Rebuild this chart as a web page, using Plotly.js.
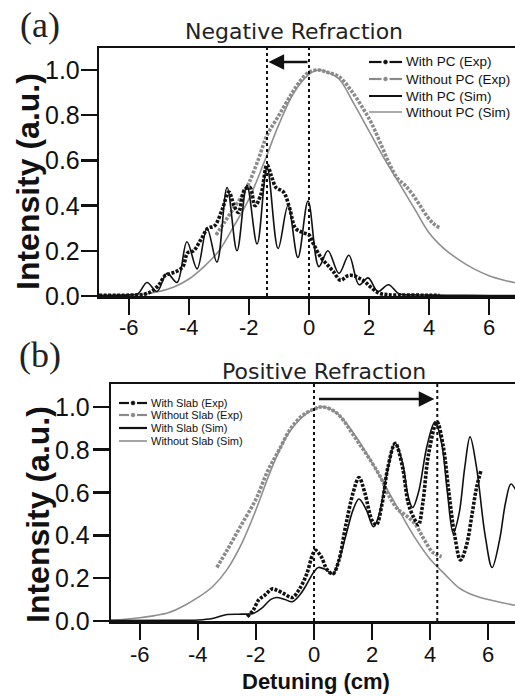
<!DOCTYPE html>
<html>
<head>
<meta charset="utf-8">
<script src="https://cdn.plot.ly/plotly-3.0.1.min.js"></script>
<style>html,body{margin:0;padding:0;background:#fff;}#chart{width:515px;height:696px;}</style>
</head>
<body>
<div id="chart"></div>
<script>
// ---------- Panel (a): Negative Refraction ----------
const aSimNoPC_x = [-7,-6.5,-6,-5.5,-5,-4.5,-4,-3.5,-3,-2.5,-2,-1.5,-1,-0.5,0,0.3,0.6,1,1.5,2,2.5,3,3.5,4,4.5,5,5.5,6,6.5,7];
const aSimNoPC_y = [0.001,0.002,0.004,0.008,0.02,0.04,0.075,0.13,0.2,0.31,0.43,0.59,0.76,0.9,0.98,1.0,0.99,0.96,0.85,0.73,0.61,0.5,0.39,0.28,0.21,0.16,0.12,0.09,0.07,0.055];

const aExpNoPC_x = [-3.1,-2.8,-2.5,-2.2,-2,-1.7,-1.4,-1.0,-0.6,-0.3,0,0.3,0.6,1.0,1.4,1.8,2.1,2.4,2.7,2.95,3.2,3.45,3.7,3.95,4.15,4.37];
const aExpNoPC_y = [0.27,0.33,0.39,0.45,0.5,0.6,0.71,0.8,0.89,0.95,0.99,1.0,0.99,0.97,0.91,0.83,0.76,0.67,0.58,0.52,0.49,0.45,0.4,0.35,0.32,0.30];

const aSimPC_x = [-7,-6,-5.7,-5.4,-5.07,-4.73,-4.4,-4.07,-3.73,-3.4,-3.07,-2.73,-2.4,-2.07,-1.73,-1.4,-1.03,-0.7,-0.37,-0.03,0.33,0.63,1.0,1.33,1.67,1.97,2.3,2.65,3.0,3.5,4,5,6,7];
const aSimPC_y = [0.003,0.005,0.01,0.06,0.02,0.1,0.06,0.24,0.12,0.3,0.15,0.48,0.2,0.49,0.23,0.57,0.21,0.4,0.17,0.42,0.13,0.2,0.1,0.18,0.05,0.08,0.02,0.05,0.01,0.005,0.004,0.003,0.002,0.002];

const aExpPC_x = [-7,-6,-5.5,-5.25,-5.0,-4.8,-4.6,-4.4,-4.2,-4.05,-3.85,-3.6,-3.37,-3.15,-2.9,-2.67,-2.5,-2.35,-2.15,-1.97,-1.8,-1.6,-1.4,-1.25,-1.1,-0.85,-0.65,-0.45,-0.2,0,0.15,0.4,0.6,0.8,1.05,1.3,1.5,1.65,1.85,2.05,2.33,2.6,3,3.5,4,4.35];
const aExpPC_y = [0.003,0.004,0.008,0.02,0.05,0.09,0.1,0.11,0.13,0.19,0.2,0.25,0.3,0.31,0.38,0.46,0.4,0.37,0.47,0.48,0.4,0.45,0.58,0.53,0.48,0.46,0.39,0.3,0.28,0.27,0.23,0.17,0.14,0.11,0.07,0.09,0.09,0.08,0.065,0.04,0.013,0.006,0.004,0.004,0.003,0.003];

const aGuides = [-1.4, 0];
const aArrowFrom = 0, aArrowTo = -1.35, aArrowY = 1.035;
const aNames = ['With PC (Exp)','Without PC (Exp)','With PC (Sim)','Without PC (Sim)'];

// ---------- Panel (b): Positive Refraction ----------
const bSimNoSlab_x = [-7,-6.5,-6,-5.5,-5,-4.5,-4,-3.5,-3,-2.5,-2,-1.5,-1,-0.5,0,0.3,0.8,1.4,2,2.5,3,3.5,4,4.5,5,5.5,6,6.5,7];
const bSimNoSlab_y = [0.004,0.008,0.015,0.025,0.04,0.07,0.11,0.16,0.24,0.36,0.52,0.7,0.85,0.94,0.99,1.0,0.97,0.87,0.74,0.62,0.5,0.385,0.29,0.22,0.155,0.12,0.1,0.085,0.072];

const bExpNoSlab_x = [-3.35,-3,-2.5,-2,-1.6,-1.2,-0.8,-0.4,0,0.3,0.7,1.0,1.3,1.6,1.9,2.3,2.6,2.9,3.2,3.5,3.8,4.1,4.4];
const bExpNoSlab_y = [0.25,0.33,0.45,0.57,0.7,0.8,0.9,0.96,0.99,1.0,0.98,0.94,0.88,0.82,0.76,0.67,0.58,0.52,0.49,0.45,0.38,0.32,0.3];

const bSimSlab_x = [-7,-5,-4,-3.5,-3,-2.5,-2.1,-1.8,-1.5,-1.3,-1.0,-0.75,-0.5,-0.3,0.0,0.15,0.4,0.65,0.85,1.1,1.35,1.55,1.8,2.05,2.25,2.5,2.8,3.05,3.25,3.4,3.6,3.9,4.17,4.4,4.6,4.8,5.0,5.2,5.38,5.6,5.9,6.14,6.4,6.6,6.79,7.0];
const bSimSlab_y = [0.002,0.003,0.005,0.012,0.03,0.032,0.035,0.06,0.1,0.11,0.1,0.09,0.12,0.16,0.23,0.25,0.24,0.22,0.28,0.4,0.52,0.57,0.52,0.44,0.5,0.68,0.83,0.74,0.58,0.53,0.6,0.82,0.93,0.83,0.6,0.41,0.5,0.72,0.86,0.72,0.4,0.25,0.38,0.55,0.64,0.6];

const bExpSlab_x = [-2.3,-2.1,-1.9,-1.7,-1.45,-1.3,-1.0,-0.75,-0.5,-0.25,-0.05,0.05,0.25,0.45,0.65,0.85,1.1,1.35,1.55,1.75,2.0,2.15,2.35,2.55,2.8,3.05,3.25,3.45,3.6,3.75,3.95,4.24,4.45,4.65,4.85,5.05,5.25,5.45,5.6,5.75];
const bExpSlab_y = [0.02,0.05,0.1,0.12,0.15,0.145,0.125,0.11,0.15,0.22,0.31,0.33,0.3,0.24,0.22,0.28,0.45,0.6,0.67,0.6,0.47,0.45,0.55,0.72,0.83,0.72,0.55,0.48,0.45,0.55,0.78,0.93,0.82,0.6,0.4,0.285,0.35,0.5,0.62,0.7];

const bGuides = [0, 4.25];
const bArrowFrom = 0.12, bArrowTo = 4.15, bArrowY = 1.037;
const bNames = ['With Slab (Exp)','Without Slab (Exp)','With Slab (Sim)','Without Slab (Sim)'];

const xTickVals = [-6,-4,-2,0,2,4,6];
const xTickText = ['-6','-4','-2','0','2','4','6'];
const yTickVals = [0,0.2,0.4,0.6,0.8,1.0];
const yTickText = ['0.0','0.2','0.4','0.6','0.8','1.0'];

// ---------- styles ----------
const BLACK = '#111111', GRAY_EXP = '#8a8a8a', GRAY_SIM = '#8f8f8f';
const SANS = 'Liberation Sans, Arial, sans-serif';
const EXP_DASH = '3px,1.5px';
const W = 515, H = 696;
const PX = p => p / W, PY = p => 1 - p / H;

function panelTraces(xa, ya, simNo, expNo, simW, expW) {
  return [
    {x: simNo[0], y: simNo[1], xaxis: xa, yaxis: ya, mode: 'lines', showlegend: false,
     line: {color: GRAY_SIM, width: 1.6, shape: 'spline'}},
    {x: expNo[0], y: expNo[1], xaxis: xa, yaxis: ya, mode: 'lines', showlegend: false,
     line: {color: GRAY_EXP, width: 3.6, dash: EXP_DASH, shape: 'spline'}},
    {x: simW[0], y: simW[1], xaxis: xa, yaxis: ya, mode: 'lines', showlegend: false,
     line: {color: BLACK, width: 1.6, shape: 'spline'}},
    {x: expW[0], y: expW[1], xaxis: xa, yaxis: ya, mode: 'lines', showlegend: false,
     line: {color: BLACK, width: 3.6, dash: EXP_DASH, shape: 'spline'}}
  ];
}

const traces = [].concat(
  panelTraces('x', 'y', [aSimNoPC_x, aSimNoPC_y], [aExpNoPC_x, aExpNoPC_y], [aSimPC_x, aSimPC_y], [aExpPC_x, aExpPC_y]),
  panelTraces('x2', 'y2', [bSimNoSlab_x, bSimNoSlab_y], [bExpNoSlab_x, bExpNoSlab_y], [bSimSlab_x, bSimSlab_y], [bExpSlab_x, bExpSlab_y])
);

function xAxis(domain, range, anchor) {
  return {domain: domain, range: range, anchor: anchor, tickmode: 'array', tickvals: xTickVals, showticklabels: false,
    ticks: 'outside', ticklen: 16, tickwidth: 2.5, tickcolor: BLACK, showline: true, linewidth: 2.5, linecolor: BLACK,
    mirror: true, showgrid: false, zeroline: false, automargin: false, fixedrange: true};
}
function yAxis(domain, range, anchor) {
  return {domain: domain, range: range, anchor: anchor, tickmode: 'array', tickvals: yTickVals, showticklabels: false,
    ticks: 'outside', ticklen: 16, tickwidth: 2.5, tickcolor: BLACK, showline: true, linewidth: 2.5, linecolor: BLACK,
    mirror: false, showgrid: false, zeroline: false, automargin: false, fixedrange: true};
}

const shapes = [];
aGuides.forEach(g => shapes.push({type: 'line', xref: 'x', yref: 'y domain', x0: g, x1: g, y0: 0, y1: 1,
  line: {color: BLACK, width: 2, dash: 'dot'}}));
bGuides.forEach(g => shapes.push({type: 'line', xref: 'x2', yref: 'y2 domain', x0: g, x1: g, y0: 0, y1: 1,
  line: {color: BLACK, width: 2, dash: 'dot'}}));

const annotations = [
  {xref: 'x', yref: 'y', axref: 'x', ayref: 'y', x: aArrowTo, y: aArrowY, ax: aArrowFrom, ay: aArrowY, text: '',
   showarrow: true, arrowhead: 2, arrowsize: 1.3, arrowwidth: 2.4, arrowcolor: BLACK},
  {xref: 'x2', yref: 'y2', axref: 'x2', ayref: 'y2', x: bArrowTo, y: bArrowY, ax: bArrowFrom, ay: bArrowY, text: '',
   showarrow: true, arrowhead: 2, arrowsize: 1.3, arrowwidth: 2.4, arrowcolor: BLACK}
];

// tick labels placed through the axes' scales
function tickLabels(xa, ya, xShift, yShift) {
  xTickVals.forEach((v, i) => annotations.push({xref: xa, yref: ya + ' domain', x: v, y: 0, yshift: yShift,
    text: xTickText[i], showarrow: false, xanchor: 'center', yanchor: 'middle',
    font: {family: SANS, size: 22, color: BLACK}}));
  yTickVals.forEach((v, i) => annotations.push({xref: xa + ' domain', yref: ya, x: 0, y: v, xshift: xShift,
    text: yTickText[i], showarrow: false, xanchor: 'right', yanchor: 'middle',
    font: {family: SANS, size: 25, color: BLACK}}));
}
tickLabels('x', 'y', -17, -31);
tickLabels('x2', 'y2', -19, -33);

function label(text, px, py, font, extra) {
  annotations.push(Object.assign({xref: 'paper', yref: 'paper', x: PX(px), y: PY(py), text: text, showarrow: false,
    xanchor: 'center', yanchor: 'middle', font: font}, extra || {}));
}
const TITLE_FONT = {family: 'DejaVu Sans, sans-serif', size: 22, color: '#222'};
const PANEL_FONT = {family: 'Liberation Serif, Times New Roman, serif', size: 36, color: '#222'};
const YT_FONT = {family: SANS, size: 32, color: BLACK};
label('Negative Refraction', 294, 32, TITLE_FONT);
label('Positive Refraction', 324, 372, TITLE_FONT);
label('(a)', 40, 25, PANEL_FONT);
label('(b)', 40, 355, PANEL_FONT);
label('<b>Intensity (a.u.)</b>', 28, 182, YT_FONT, {textangle: -90});
label('<b>Intensity (a.u.)</b>', 38, 515, YT_FONT, {textangle: -90});
label('<b>Detuning (cm)</b>', 316, 681, {family: SANS, size: 22, color: BLACK});

// custom legends (symbol + text), drawn in paper coordinates
function legend(names, rows, x0, x1, fontSize) {
  const styles = [
    {color: BLACK, exp: true}, {color: GRAY_EXP, exp: true},
    {color: BLACK, exp: false, w: 2.2}, {color: GRAY_SIM, exp: false, w: 1.6}
  ];
  names.forEach((n, i) => {
    const st = styles[i], y = rows[i];
    if (st.exp) {
      const mid = (x0 + x1) / 2, gap = 4;
      shapes.push({type: 'line', xref: 'paper', yref: 'paper', x0: PX(x0), x1: PX(mid - gap), y0: PY(y), y1: PY(y),
        line: {color: st.color, width: 2.2}});
      shapes.push({type: 'line', xref: 'paper', yref: 'paper', x0: PX(mid + gap), x1: PX(x1), y0: PY(y), y1: PY(y),
        line: {color: st.color, width: 2.2}});
      shapes.push({type: 'circle', xref: 'paper', yref: 'paper', x0: PX(mid - 2), x1: PX(mid + 2), y0: PY(y + 2), y1: PY(y - 2),
        fillcolor: st.color, line: {color: st.color, width: 0.5}});
    } else {
      shapes.push({type: 'line', xref: 'paper', yref: 'paper', x0: PX(x0), x1: PX(x1), y0: PY(y), y1: PY(y),
        line: {color: st.color, width: st.w}});
    }
    annotations.push({xref: 'paper', yref: 'paper', x: PX(x1 + 2), y: PY(y), text: n, showarrow: false,
      xanchor: 'left', yanchor: 'middle', font: {family: SANS, size: fontSize, color: BLACK}});
  });
}
legend(aNames, [62, 79, 96, 112], 369, 402, 13.5);
legend(bNames, [403, 415, 428, 441], 119, 147, 11);

const layout = {
  width: W, height: H, margin: {l: 0, r: 0, t: 0, b: 0},
  paper_bgcolor: '#ffffff', plot_bgcolor: '#ffffff',
  font: {family: SANS, color: BLACK},
  showlegend: false,
  xaxis: xAxis([99/W, 1], [-7, 6.867], 'y'),
  yaxis: yAxis([1 - 296/H, 1 - 48/H], [0, 1.097], 'x'),
  xaxis2: xAxis([111/W, 1], [-7, 6.93], 'y2'),
  yaxis2: yAxis([1 - 621/H, 1 - 384/H], [0, 1.107], 'x2'),
  shapes: shapes,
  annotations: annotations
};

Plotly.newPlot('chart', traces, layout, {staticPlot: true, displayModeBar: false});
</script>
</body>
</html>
